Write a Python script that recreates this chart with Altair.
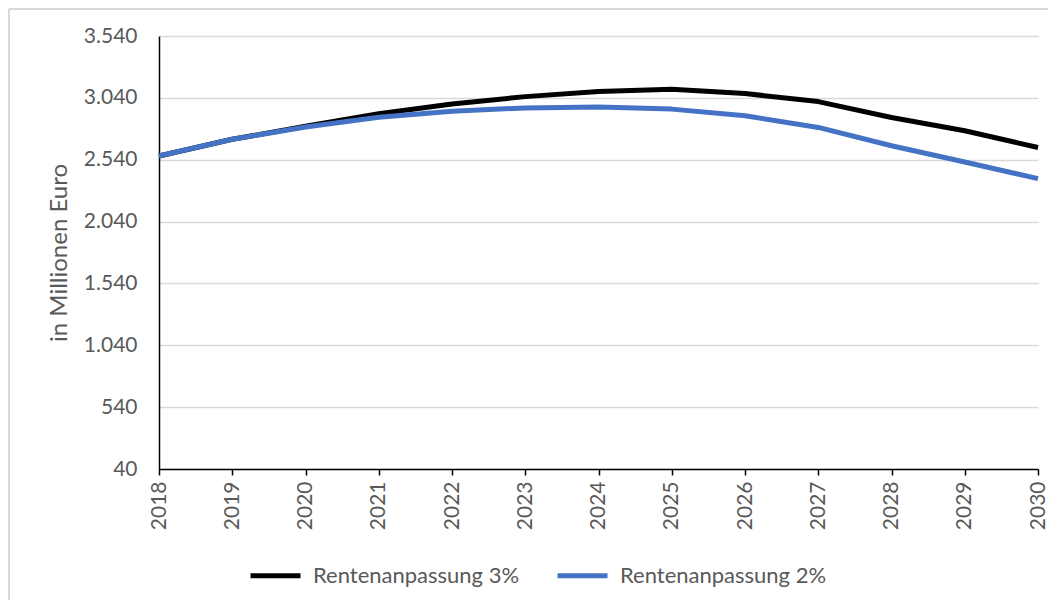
import altair as alt
import pandas as pd

years = list(range(2018, 2031))
rente_3 = [2570, 2705, 2810, 2911, 2991, 3050, 3091, 3110, 3075, 3010, 2881, 2774, 2639]
rente_2 = [2570, 2705, 2805, 2883, 2932, 2959, 2967, 2949, 2895, 2801, 2653, 2521, 2387]
series_names = ["Rentenanpassung 3%", "Rentenanpassung 2%"]
series_colors = ["#000000", "#4472C4"]
y_ticks = [40, 540, 1040, 1540, 2040, 2540, 3040, 3540]

rows = []
for name, vals in zip(series_names, [rente_3, rente_2]):
    for yr, v in zip(years, vals):
        rows.append({"Jahr": yr, "Wert": v, "Serie": name})
df = pd.DataFrame(rows)

FONT = "Lato"
GRAY = "#595959"

lines = alt.Chart(df).mark_line(strokeWidth=5, interpolate="linear", strokeJoin="round").encode(
    x=alt.X(
        "Jahr:Q",
        scale=alt.Scale(domain=[2018, 2030], nice=False, zero=False),
        axis=alt.Axis(
            values=years, format="d", labelAngle=270, title=None, grid=False,
            domainColor="black", domainWidth=1.5, tickColor="black", tickWidth=1.5,
            tickSize=6, labelPadding=6, labelColor=GRAY, labelFontSize=21,
            labelFont=FONT,
        ),
    ),
    y=alt.Y(
        "Wert:Q",
        scale=alt.Scale(domain=[40, 3540], nice=False, zero=False),
        axis=alt.Axis(
            values=y_ticks,
            labelExpr="replace(format(datum.value, ','), ',', '.')",
            title="in Millionen Euro", ticks=False,
            domainColor="black", domainWidth=1.5,
            gridColor="#d9d9d9", gridWidth=1.5,
            labelPadding=22, labelColor=GRAY, labelFontSize=21, labelFont=FONT,
            titlePadding=12, titleFontSize=24, titleFont=FONT,
            titleFontWeight="normal", titleColor=GRAY,
        ),
    ),
    color=alt.Color(
        "Serie:N",
        scale=alt.Scale(domain=series_names, range=series_colors),
        legend=alt.Legend(
            orient="none", legendX=89, legendY=512, direction="horizontal",
            title=None, symbolType="stroke", symbolStrokeWidth=5, symbolSize=2500,
            labelFontSize=22, labelFont=FONT, labelColor=GRAY, labelOffset=10,
            columnPadding=27, padding=0, labelLimit=400,
        ),
    ),
)

frame = pd.DataFrame({"b": [0]})
border_left = alt.Chart(frame).mark_rule(color="#d9d9d9", strokeWidth=2).encode(
    x=alt.value(-150), y=alt.value(-27), y2=alt.value(640)
)
border_top = alt.Chart(frame).mark_rule(color="#d9d9d9", strokeWidth=2).encode(
    x=alt.value(-150), x2=alt.value(960), y=alt.value(-27)
)

chart = alt.layer(border_left, border_top, lines).properties(
    width=879,
    height=433,
    autosize=alt.AutoSizeParams(type="none"),
    padding={"left": 151, "top": 28, "right": 10, "bottom": 131},
).configure_view(strokeWidth=0)

chart.save("out.html", embed_options={"renderer": "svg", "actions": False})
